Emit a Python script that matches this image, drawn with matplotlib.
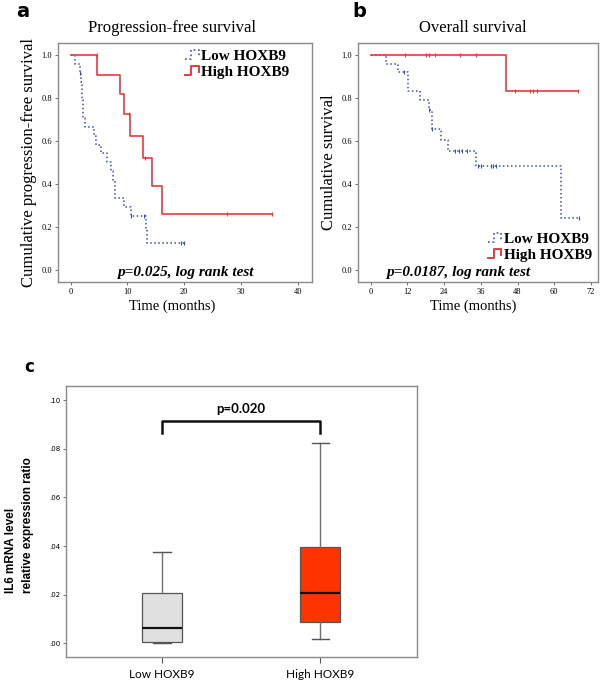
import matplotlib
matplotlib.use("Agg")
import matplotlib.pyplot as plt
from matplotlib.lines import Line2D
from matplotlib.legend_handler import HandlerBase

# ---- panel a: progression-free survival (Kaplan-Meier steps) ----
pfs_low_t = [0, 0.75, 1.6, 1.8, 2.0, 2.2, 2.5, 4.2, 4.45, 5.3, 6.5, 7.05, 7.5, 7.8, 9.45, 10.6, 13.3, 13.5, 20]
pfs_low_s = [1.0, 0.958, 0.917, 0.875, 0.792, 0.708, 0.667, 0.625, 0.583, 0.542, 0.5, 0.458, 0.417, 0.333, 0.292, 0.25, 0.1875, 0.125, 0.125]
pfs_low_cens_t = [1.65, 10.7, 13.0, 19.5, 20]
pfs_low_cens_s = [0.917, 0.25, 0.25, 0.125, 0.125]

pfs_high_t = [0, 4.7, 8.7, 9.4, 10.5, 12.7, 14.3, 16.1, 35.5]
pfs_high_s = [1.0, 0.909, 0.818, 0.727, 0.623, 0.52, 0.39, 0.26, 0.26]
pfs_high_cens_t = [4.6, 10.3, 13.1, 27.6, 35.5]
pfs_high_cens_s = [1.0, 0.727, 0.52, 0.26, 0.26]

# ---- panel b: overall survival ----
os_low_t = [0, 5.0, 9.0, 12.1, 16.1, 19.1, 19.9, 23.0, 25.1, 34.3, 62.3, 68.1]
os_low_s = [1.0, 0.96, 0.92, 0.833, 0.79, 0.745, 0.655, 0.606, 0.555, 0.482, 0.243, 0.243]
os_low_cens_t = [11.0, 19.1, 19.9, 27.6, 29.0, 30.0, 31.4, 35.2, 36.0, 39.2, 40.1, 41.0, 68.1]
os_low_cens_s = [0.92, 0.745, 0.655, 0.555, 0.555, 0.555, 0.555, 0.482, 0.482, 0.482, 0.482, 0.482, 0.243]

os_high_t = [0, 44.2, 67.6]
os_high_s = [1.0, 0.833, 0.833]
os_high_cens_t = [11.2, 18.1, 19.2, 21.0, 29.2, 34.4, 47.2, 52.1, 53.2, 54.3, 67.6]
os_high_cens_s = [1.0, 1.0, 1.0, 1.0, 1.0, 1.0, 0.833, 0.833, 0.833, 0.833, 0.833]

# ---- panel c: IL6 box plot summary ----
groups = ["Low HOXB9", "High HOXB9"]
whislo = [0.0, 0.0016]
q1 = [0.0004, 0.0086]
med = [0.0064, 0.0208]
q3 = [0.0206, 0.0397]
whishi = [0.0374, 0.0822]

RED = "#e8393f"
BLUE = "#3d4f9e"
FRAME = "#8a8a8a"
SERIF = "Liberation Serif"


class StepHandler(HandlerBase):
    # little step-shaped legend key, like SPSS draws it
    def create_artists(self, legend, orig, xd, yd, w, h, fontsize, trans):
        x = [-xd, -xd + w * 0.45, -xd + w * 0.45, -xd + w, -xd + w]
        y = [-yd + h * 0.05, -yd + h * 0.05, -yd + h * 0.95, -yd + h * 0.95, -yd + h * 0.3]
        ln = Line2D(x, y, color=orig.get_color(), linestyle=orig.get_linestyle(),
                    linewidth=orig.get_linewidth(), transform=trans)
        return [ln]


def km_axes(ax, curves, xlim, xticks, title, title_x, ylabel, ptext, ptext_x,
            legend_loc, legend_anchor):
    for t, s, ct, cs, color, ls in curves:
        ax.step(t, s, where="post", color=color, linestyle=ls, linewidth=1.2 if ls == "-" else 1.1)
        ax.plot(ct, cs, linestyle="none", marker="|", markersize=3.5, color=color, markeredgewidth=0.8)
    ax.set_xlim(*xlim)
    ax.set_ylim(-0.057, 1.056)
    ax.set_xticks(xticks)
    ax.set_yticks([0.0, 0.2, 0.4, 0.6, 0.8, 1.0])
    ax.set_yticklabels(["0.0", "0.2", "0.4", "0.6", "0.8", "1.0"])
    ax.tick_params(labelsize=6, length=2.5, width=0.6, color="#555555", pad=2)
    for lab in ax.get_xticklabels() + ax.get_yticklabels():
        lab.set_family(SERIF)
    for sp in ax.spines.values():
        sp.set_color(FRAME)
        sp.set_linewidth(1.0)
    ax.set_title(title, family=SERIF, fontsize=12, pad=8, x=title_x)
    ax.set_xlabel("Time (months)", family=SERIF, fontsize=10.5)
    ax.xaxis.set_label_coords(title_x, -0.075)
    ax.set_ylabel(ylabel, family=SERIF, fontsize=12, labelpad=3)
    ax.text(ptext_x, 0.04, ptext, transform=ax.transAxes, family=SERIF, fontsize=11,
            fontweight="bold", style="italic", ha="center", va="center")
    handles = [Line2D([], [], color=BLUE, linestyle=":", linewidth=1.2),
               Line2D([], [], color=RED, linestyle="-", linewidth=1.4)]
    ax.legend(handles, ["Low HOXB9", "High HOXB9"], loc=legend_loc, bbox_to_anchor=legend_anchor,
              frameon=False, handlelength=0.9, handletextpad=0.15, labelspacing=0.15,
              borderpad=0, borderaxespad=0, handler_map={Line2D: StepHandler()},
              prop={"family": SERIF, "weight": "bold", "size": 11})


fig = plt.figure(figsize=(6, 6.83), dpi=100)

ax_a = fig.add_axes([0.0967, 0.5871, 0.4233, 0.3499])
km_axes(ax_a,
        [(pfs_low_t, pfs_low_s, pfs_low_cens_t, pfs_low_cens_s, BLUE, ":"),
         (pfs_high_t, pfs_high_s, pfs_high_cens_t, pfs_high_cens_s, RED, "-")],
        (-2.2, 42.5), [0, 10, 20, 30, 40], "Progression-free survival", 0.449,
        "Cumulative progression-free survival", "p=0.025, log rank test", 0.5,
        "upper left", (0.5, 0.975))

ax_b = fig.add_axes([0.5967, 0.5871, 0.4, 0.3499])
km_axes(ax_b,
        [(os_low_t, os_low_s, os_low_cens_t, os_low_cens_s, BLUE, ":"),
         (os_high_t, os_high_s, os_high_cens_t, os_high_cens_s, RED, "-")],
        (-4.15, 74.3), [0, 12, 24, 36, 48, 60, 72], "Overall survival", 0.48,
        "Cumulative survival", "p=0.0187, log rank test", 0.417,
        "lower left", (0.54, 0.085))

fig.text(0.027, 0.975, "a", fontsize=14, fontweight="bold", family="DejaVu Sans", va="baseline")
fig.text(0.587, 0.975, "b", fontsize=14, fontweight="bold", family="DejaVu Sans", va="baseline")
fig.text(0.041, 0.455, "c", fontsize=12, fontweight="bold", family="DejaVu Sans", va="baseline")

# ---- panel c ----
ax_c = fig.add_axes([0.1095, 0.0385, 0.585, 0.3963])
stats = []
for i, g in enumerate(groups):
    stats.append({"label": g, "whislo": whislo[i], "q1": q1[i], "med": med[i],
                  "q3": q3[i], "whishi": whishi[i], "fliers": []})
bp = ax_c.bxp(stats, positions=[0, 1], widths=0.25, patch_artist=True, showfliers=False,
              boxprops={"edgecolor": "#555555", "linewidth": 0.9},
              medianprops={"color": "#111111", "linewidth": 1.6},
              whiskerprops={"color": "#707070", "linewidth": 1.0},
              capprops={"color": "#555555", "linewidth": 1.0}, capwidths=0.11)
for patch, fc in zip(bp["boxes"], ["#e0e0e0", "#ff3300"]):
    patch.set_facecolor(fc)

ax_c.set_xlim(-0.61, 1.61)
ax_c.set_ylim(-0.0055, 0.1058)
ax_c.set_yticks([0.0, 0.02, 0.04, 0.06, 0.08, 0.10])
ax_c.set_yticklabels([".00", ".02", ".04", ".06", ".08", ".10"])
ax_c.tick_params(axis="y", labelsize=5, length=2.5, width=0.6, pad=1, color="#555555")
ax_c.tick_params(axis="x", labelsize=8.5, length=4, width=0.8, pad=5, color="#555555")
for lab in ax_c.get_xticklabels():
    lab.set_family("Lato")
for sp in ax_c.spines.values():
    sp.set_color(FRAME)
    sp.set_linewidth(1.0)

# significance bracket
ax_c.plot([0, 0, 1, 1], [0.0866, 0.0915, 0.0915, 0.0866], color="#111111", linewidth=1.8)
ax_c.text(0.5, 0.0963, "p=0.020", ha="center", va="center", fontsize=9.5,
          fontweight="bold", family="Lato")

fig.text(0.032, 0.132, "IL6 mRNA level\nrelative expression ratio", rotation=90,
         ha="center", va="bottom", multialignment="left", fontsize=8.5,
         fontweight="bold", family="Liberation Sans", linespacing=1.55)

fig.savefig("out.png", dpi=100)
